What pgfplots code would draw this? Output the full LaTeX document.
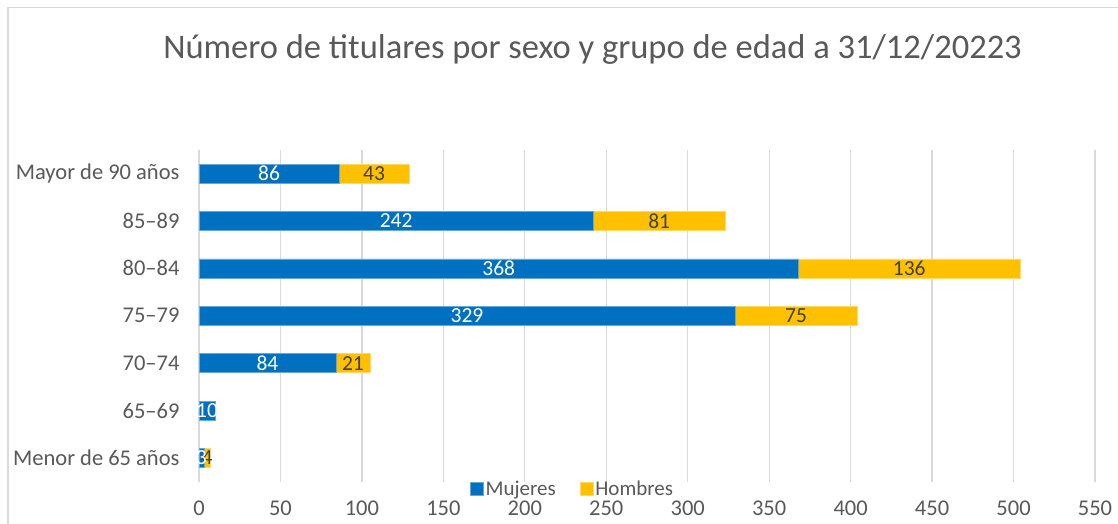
\documentclass[border=0pt]{standalone}
\usepackage{pgfplots}
\usepackage{pgfplotstable}
\pgfplotsset{compat=1.18}
\usepackage{fontspec}
\setmainfont{Carlito}
\definecolor{cblue}{HTML}{0070C0}
\definecolor{cgold}{HTML}{FFC000}
\definecolor{ctext}{HTML}{595959}
\definecolor{cgrid}{HTML}{D9D9D9}
\definecolor{cdark}{HTML}{404040}
\pgfplotstableread{
y m h
0 3 4
1 10 0
2 84 21
3 329 75
4 368 136
5 242 81
6 86 43
}\data
\begin{document}
\begin{tikzpicture}[x=1pt,y=1pt]
\useasboundingbox (0,0) rectangle (1118,523);
\fill[white] (0,0) rectangle (1118,523);
\draw[cgrid, line width=1.3pt] (8,-30) -- (8,515.5) -- (1150,515.5);
\node[font=\fontsize{34.5}{38}\selectfont, text=ctext] at (592.5,474) {Número de titulares por sexo y grupo de edad a 31/12/20223};
\begin{axis}[
  at={(199pt,41.3pt)}, anchor=south west,
  scale only axis, width=896pt, height=331.9pt,
  xmin=0, xmax=550, ymin=-0.5, ymax=6.5,
  xbar stacked, bar width=19pt,
  axis line style={draw=none},
  major tick length=0pt,
  xtick={0,50,...,550},
  xmajorgrids, grid style={cgrid, line width=1.3pt},
  ytick={0,...,6},
  yticklabels={Menor de 65 años,65--69,70--74,75--79,80--84,85--89,Mayor de 90 años},
  ticklabel style={font=\fontsize{22.5}{26}\selectfont, text=ctext},
  xticklabel style={yshift=-16pt},
  yticklabel style={xshift=-16pt},
  /pgf/number format/assume math mode=true,
  legend style={draw=none, fill=none, at={(0.417,-0.021)}, anchor=center,
     legend columns=2, font=\fontsize{21}{24}\selectfont, text=ctext,
     /tikz/every even column/.append style={column sep=22pt}},
  legend image code/.code={\fill[#1] (0pt,-6.5pt) rectangle (13pt,6.5pt);},
  legend cell align=left,
]
\addplot[fill=cblue, draw=cblue!60!white, line width=0.5pt,
  nodes near coords, point meta=explicit symbolic,
  every node near coord/.append style={font=\fontsize{21.5}{24}\selectfont, text=white}]
  table[x=m, y=y, meta=m] {\data};
\addlegendentry{Mujeres}
\addplot[fill=cgold, draw=cgold!60!white, line width=0.5pt,
  nodes near coords, point meta=explicit symbolic,
  every node near coord/.append style={font=\fontsize{21.5}{24}\selectfont, text=cdark}]
  table[x=h, y=y, meta=h] {\data};
\addlegendentry{Hombres}
\end{axis}
\end{tikzpicture}
\end{document}
